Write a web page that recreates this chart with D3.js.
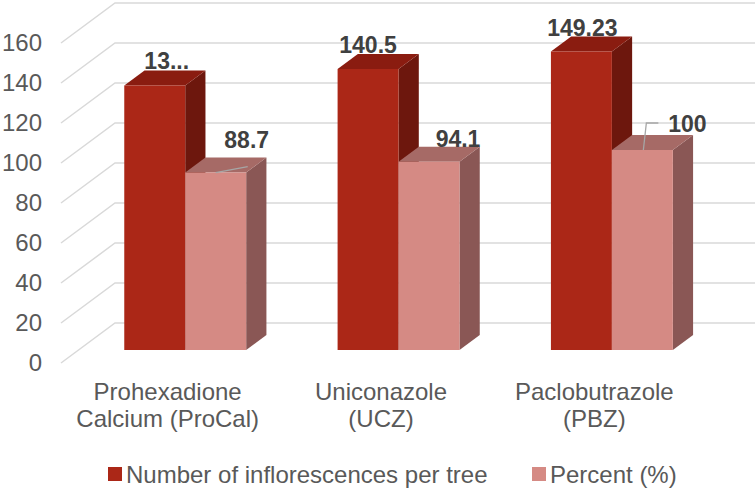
<!DOCTYPE html>
<html>
<head>
<meta charset="utf-8">
<script src="https://cdn.jsdelivr.net/npm/d3@7"></script>
<style>
  body { margin: 0; background: #fff; }
  svg { display: block; font-family: "Liberation Sans", Arial, sans-serif; }
</style>
</head>
<body>
<div id="chart"></div>
<script>
// data
const categories = [["Prohexadione", "Calcium (ProCal)"], ["Uniconazole", "(UCZ)"], ["Paclobutrazole", "(PBZ)"]];
const catKeys = ["ProCal", "UCZ", "PBZ"];
const seriesNames = ["Number of inflorescences per tree", "Percent (%)"];
const inflorescences = [132.3, 140.5, 149.23];
const percent = [88.7, 94.1, 100];
const inflLabels = ["13...", "140.5", "149.23"];
const percentLabels = ["88.7", "94.1", "100"];
const yTicks = [0, 20, 40, 60, 80, 100, 120, 140, 160];

const width = 755, height = 488;
const floorX = 61, floorY = 363;          // front-left corner of the floor
const depthX = 54, depthY = 40;           // oblique depth of the plot
const barZ0 = 0.325, barZ1 = 0.70;        // bar depth range (fraction)

const colors = [
    { front: "#ab2717", top: "#8a1c10", side: "#6d170d" },
    { front: "#d58a84", top: "#a66a66", side: "#8a5755" }
];

const svg = d3.select("#chart").append("svg")
    .attr("width", width)
    .attr("height", height);

const x0 = d3.scaleBand().domain(catKeys).range([0, 640]).padding(0);
const x1 = d3.scaleBand().domain([0, 1]).range([0, x0.bandwidth()])
    .paddingInner(0).paddingOuter(0.75);
const y = d3.scaleLinear().domain([0, 160]).range([0, 320]);

// projection of (x along floor, value, depth fraction) to screen
const px = (xv, z) => floorX + xv + depthX * z;
const py = (v, z) => floorY - y(v) - depthY * z;

// gridlines: back wall + left wall diagonal
const grid = svg.append("g")
    .attr("stroke", "#d9d9d9")
    .attr("stroke-width", 1.5)
    .attr("fill", "none");

grid.selectAll("path")
    .data(yTicks)
    .enter().append("path")
    .attr("d", d => "M" + px(0, 0) + "," + py(d, 0)
        + "L" + px(0, 1) + "," + py(d, 1)
        + "H" + px(640, 1));

// y tick labels
svg.append("g")
    .attr("fill", "#595959")
    .attr("font-size", "24px")
    .attr("text-anchor", "end")
    .selectAll("text")
    .data(yTicks)
    .enter().append("text")
    .attr("x", 42)
    .attr("y", d => py(d, 0))
    .attr("dy", "0.35em")
    .text(d => d);

// bars
const series = [inflorescences, percent];
const bars = [];
catKeys.forEach((c, i) => {
    series.forEach((s, j) => bars.push({ cat: c, i: i, j: j, v: s[i] }));
});

function barFaces(b) {
    const xl = x0(b.cat) + x1(b.j), xr = xl + x1.bandwidth();
    const p = (xv, v, z) => px(xv, z) + "," + py(v, z);
    return {
        front: "M" + p(xl, 0, barZ0) + "L" + p(xl, b.v, barZ0) + "L" + p(xr, b.v, barZ0) + "L" + p(xr, 0, barZ0) + "Z",
        top: "M" + p(xl, b.v, barZ0) + "L" + p(xl, b.v, barZ1) + "L" + p(xr, b.v, barZ1) + "L" + p(xr, b.v, barZ0) + "Z",
        side: "M" + p(xr, 0, barZ0) + "L" + p(xr, b.v, barZ0) + "L" + p(xr, b.v, barZ1) + "L" + p(xr, 0, barZ1) + "Z"
    };
}

const barG = svg.append("g")
    .selectAll("g")
    .data(bars)
    .enter().append("g");

["side", "top", "front"].forEach(face => {
    barG.append("path")
        .attr("d", d => barFaces(d)[face])
        .attr("fill", d => colors[d.j][face]);
});

// data labels
const labelG = svg.append("g")
    .attr("fill", "#404040")
    .attr("font-size", "23px")
    .attr("font-weight", "bold")
    .attr("text-anchor", "middle");

const barCenter = (i, j) => px(x0(catKeys[i]) + x1(j) + x1.bandwidth() / 2, barZ0);

// label offsets (layout only)
const inflOffset = [[12, -1], [0, -1], [1, -1]];
const pctOffset = [[31, -10], [29, 0], [45, -3]];

labelG.selectAll(".infl")
    .data(inflorescences)
    .enter().append("text")
    .attr("x", (d, i) => barCenter(i, 0) + inflOffset[i][0])
    .attr("y", (d, i) => py(d, barZ1) + inflOffset[i][1])
    .text((d, i) => inflLabels[i]);

labelG.selectAll(".pct")
    .data(percent)
    .enter().append("text")
    .attr("x", (d, i) => barCenter(i, 1) + pctOffset[i][0])
    .attr("y", (d, i) => py(d, barZ1) + pctOffset[i][1])
    .text((d, i) => percentLabels[i]);

// leader lines
const leaders = svg.append("g")
    .attr("stroke", "#a6a6a6")
    .attr("stroke-width", 1.3)
    .attr("fill", "none");
leaders.append("path")
    .attr("d", "M" + barCenter(0, 1) + "," + py(percent[0], barZ0)
        + "L" + (barCenter(0, 1) + 32) + "," + (py(percent[0], barZ0) - 6));
leaders.append("path")
    .attr("d", "M" + (barCenter(2, 1) + 1) + "," + py(percent[2], barZ0)
        + "L" + (barCenter(2, 1) + 4) + "," + (py(percent[2], barZ0) - 27)
        + "H" + (barCenter(2, 1) + 16));

// category labels
const catG = svg.append("g")
    .attr("fill", "#595959")
    .attr("font-size", "24px")
    .attr("text-anchor", "middle")
    .selectAll("text")
    .data(categories)
    .enter().append("text")
    .attr("x", (d, i) => px(x0(catKeys[i]) + x0.bandwidth() / 2, 0))
    .attr("y", 400);
catG.selectAll("tspan")
    .data(d => d)
    .enter().append("tspan")
    .attr("x", function () { return d3.select(this.parentNode).attr("x"); })
    .attr("dy", (d, k) => k === 0 ? 0 : 27)
    .text(d => d);

// legend
const legendX = [108, 532];
const legend = svg.append("g")
    .selectAll("g")
    .data(seriesNames)
    .enter().append("g")
    .attr("transform", (d, i) => "translate(" + legendX[i] + ",467)");
legend.append("rect")
    .attr("width", 14)
    .attr("height", 14)
    .attr("fill", (d, i) => colors[i].front);
legend.append("text")
    .attr("x", 18)
    .attr("y", 16)
    .attr("fill", "#595959")
    .attr("font-size", "24px")
    .text(d => d);
</script>
</body>
</html>
